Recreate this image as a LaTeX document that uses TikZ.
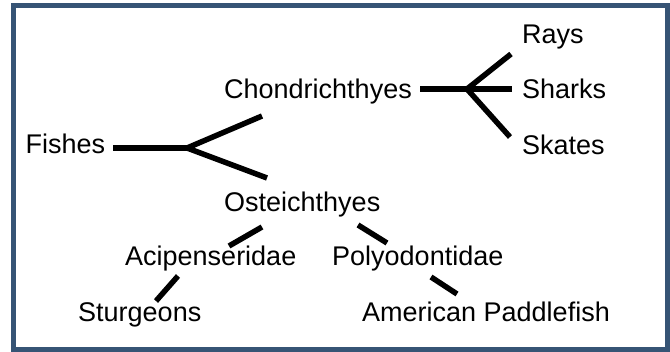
\documentclass[tikz,border=0pt]{standalone}
\usepackage{fontspec}
\setmainfont{Liberation Sans}
\definecolor{framecol}{RGB}{54,84,117}
\begin{document}
\begin{tikzpicture}[x=1pt,y=-1pt,
  lbl/.style={anchor=base west,inner sep=0pt,font=\fontsize{27}{32}\selectfont},
  br/.style={line width=5.5pt,black}]
\useasboundingbox (0,0) rectangle (670,352);
\fill[white] (0,0) rectangle (670,352);
\draw[framecol,line width=5pt] (13.5,5.8) rectangle (667.5,349.5);
% nodes
\node[lbl] (fishes) at (25.5,154) {Fishes};
\node[lbl] (chond) at (224,99) {Chondrichthyes};
\node[lbl] (ost) at (224,212) {Osteichthyes};
\node[lbl] (rays) at (522,44) {Rays};
\node[lbl] (sharks) at (522,99) {Sharks};
\node[lbl] (skates) at (522,155) {Skates};
\node[lbl] (aci) at (125,266) {Acipenseridae};
\node[lbl] (poly) at (332,266) {Polyodontidae};
\node[lbl] (stur) at (78,322) {Sturgeons};
\node[lbl] (amer) at (362,322) {American Paddlefish};
% joints and free ends
\coordinate (fA) at (113,148);
\coordinate (fJ) at (187,148);
\coordinate (fC) at (262,116);
\coordinate (fO) at (267,178);
\coordinate (cA) at (420,89);
\coordinate (cJ) at (467,89);
\coordinate (cR) at (511,54);
\coordinate (cS) at (512,89);
\coordinate (cK) at (510,137);
\coordinate (oA1) at (262,227);
\coordinate (oA2) at (229,246);
\coordinate (oP1) at (358,225);
\coordinate (oP2) at (387,243);
\coordinate (aS1) at (178,276);
\coordinate (aS2) at (156,301);
\coordinate (pA1) at (431,277);
\coordinate (pA2) at (457,294);
% connectors
\draw[br] (fA) -- (fJ);
\draw[br] (fC) -- (fJ) -- (fO);
\draw[br] (cA) -- (cJ);
\draw[br] (cR) -- (cJ) -- (cK);
\draw[br] (cJ) -- (cS);
\draw[br] (oA1) -- (oA2);
\draw[br] (oP1) -- (oP2);
\draw[br] (aS1) -- (aS2);
\draw[br] (pA1) -- (pA2);
\end{tikzpicture}
\end{document}
